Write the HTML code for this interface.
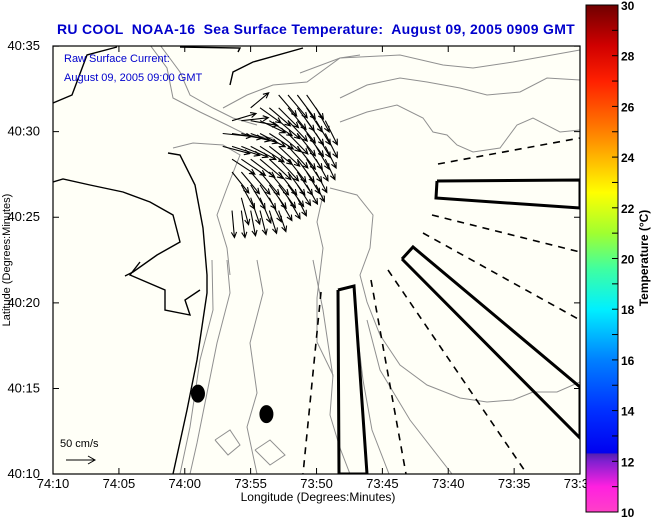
<!DOCTYPE html>
<html><head><meta charset="utf-8"><style>
html,body{margin:0;padding:0;background:#fff;}
svg{display:block;font-family:"Liberation Sans",sans-serif;}
</style></head><body>
<svg id="chart" width="651" height="518" viewBox="0 0 651 518">
<defs>
<linearGradient id="cb" x1="0" y1="1" x2="0" y2="0">
<stop offset="0" stop-color="#ff40c8"/>
<stop offset="0.05" stop-color="#ff20e0"/>
<stop offset="0.1" stop-color="#8020d0"/>
<stop offset="0.115" stop-color="#5020b0"/>
<stop offset="0.116" stop-color="#0000f0"/>
<stop offset="0.2" stop-color="#0030ff"/>
<stop offset="0.3" stop-color="#0080ff"/>
<stop offset="0.4" stop-color="#00f0ff"/>
<stop offset="0.48" stop-color="#40ffa0"/>
<stop offset="0.55" stop-color="#a0ff30"/>
<stop offset="0.63" stop-color="#ffff00"/>
<stop offset="0.75" stop-color="#ff8000"/>
<stop offset="0.85" stop-color="#ff2000"/>
<stop offset="0.92" stop-color="#d00000"/>
<stop offset="1" stop-color="#700000"/>
</linearGradient>
<clipPath id="pc"><rect x="53" y="46" width="527" height="428"/></clipPath>
</defs>
<text x="316" y="34" text-anchor="middle" font-size="14" font-weight="bold" fill="#0000cc" xml:space="preserve" letter-spacing="0.3">RU COOL  NOAA-16  Sea Surface Temperature:  August 09, 2005 0909 GMT</text>
<rect x="53" y="46" width="527" height="428" fill="#fffff7"/>
<g id="map" clip-path="url(#pc)" fill="none"></g>
<g id="vecs" clip-path="url(#pc)"></g>
<rect x="53" y="46" width="527" height="428" fill="none" stroke="#000" stroke-width="1.2"/>
<g id="axes"></g>
<text x="64" y="62" font-size="11" fill="#0000cc">Raw Surface Current:</text>
<text x="64" y="81" font-size="11" fill="#0000cc">August 09, 2005 09:00 GMT</text>
<text x="60" y="447" font-size="11" fill="#000">50 cm/s</text>
<g stroke="#000" fill="none"><line x1="66" y1="460" x2="95" y2="460"/><polyline points="88,456 95,460 88,464"/></g>
<text x="318" y="501" text-anchor="middle" font-size="12">Longitude (Degrees:Minutes)</text>
<text transform="translate(10,260) rotate(-90)" text-anchor="middle" font-size="11">Latitude (Degrees:Minutes)</text>
<rect x="586" y="5" width="32" height="507" fill="url(#cb)" stroke="#000" stroke-width="1"/>
<g id="cbt"></g>
<text transform="translate(648,258) rotate(-90)" text-anchor="middle" font-size="12" font-weight="bold">Temperature (°C)</text>
</svg>
<script>
const lonTicks=[-74.1667,-74.0833,-74.0,-73.9167,-73.8333,-73.75,-73.6667,-73.5833,-73.5];
const lonLabels=["74:10","74:05","74:00","73:55","73:50","73:45","73:40","73:35","73:30"];
const latTicks=[40.1667,40.25,40.3333,40.4167,40.5,40.5833];
const latLabels=["40:10","40:15","40:20","40:25","40:30","40:35"];
const cbTicks=[10,12,14,16,18,20,22,24,26,28,30];
const gridLon0=-73.952, dLon=0.0118, gridLat0=40.5357, dLat=0.0125;
const uRows=[
[null,null,null,null,null,null,30,32,30,28,null,null],
[null,null,null,30,35,35,33,30,28,26,22,null],
[null,40,45,45,42,38,35,32,30,28,24,20],
[48,50,48,45,42,40,36,33,30,28,24,20],
[45,46,44,42,40,38,35,33,30,26,22,18],
[null,38,40,40,38,36,33,30,28,25,20,16],
[null,28,30,32,32,32,30,28,25,22,18,null],
[null,null,22,24,26,28,28,26,22,18,14,null],
[null,null,12,15,18,20,22,20,15,null,null,null],
[null,4,6,8,10,12,12,null,null,null,null,null]];
const vRows=[
[null,null,null,null,null,null,-35,-38,-40,-40,null,null],
[null,null,null,25,-25,-30,-33,-36,-38,-40,-40,null],
[null,12,5,-8,-20,-25,-30,-34,-37,-40,-40,-40],
[-5,-8,-12,-16,-22,-26,-30,-34,-37,-38,-40,-40],
[-12,-15,-18,-22,-26,-30,-33,-36,-38,-38,-38,-36],
[null,-25,-27,-30,-32,-34,-36,-38,-38,-38,-36,-34],
[null,-35,-36,-37,-38,-38,-38,-38,-38,-36,-34,null],
[null,null,-40,-40,-40,-39,-38,-36,-34,-32,-28,null],
[null,null,-45,-44,-42,-40,-38,-35,-30,null,null,null],
[null,-45,-45,-42,-40,-38,-35,null,null,null,null,null]];
const stationLon=[-73.9833,-73.8967];
const stationLat=[40.2450,40.2250];

const X=lon=>53+(lon+74.1667)/0.6667*527;
const Y=lat=>474-(lat-40.1667)/0.4167*428;
const CY=t=>512-(t-10)/20*507;
const NS="http://www.w3.org/2000/svg";
function mk(tag,attrs,parent){const e=document.createElementNS(NS,tag);for(const k in attrs)e.setAttribute(k,attrs[k]);parent.appendChild(e);return e;}
const axes=document.getElementById('axes');
lonTicks.forEach((lo,i)=>{const x=X(lo);
 const t=mk('path',{d:`M${x},474v-6M${x},46v6`,stroke:'#000'},axes);
 
 
 const l=mk('text',{x:x,y:488,'text-anchor':'middle','font-size':13},axes);l.textContent=lonLabels[i];
 
 });
latTicks.forEach((la,i)=>{const y=Y(la);
 const t=mk('path',{d:`M53,${y}h6M580,${y}h-6`,stroke:'#000'},axes);
 
 
 const l=mk('text',{x:40,y:y+4,'text-anchor':'end','font-size':13},axes);l.textContent=latLabels[i];
 
 });
const cbt=document.getElementById('cbt');
cbTicks.forEach(t=>{const y=CY(t);
 const m=mk('path',{d:`M612,${y}h6`,stroke:'#000'},cbt);
 
 
 const l=mk('text',{x:621,y:y+5,'font-size':12,'font-weight':'bold'},cbt);l.textContent=t;
 
 });
for(let t=11;t<30;t+=2){const m=mk('path',{d:`M612,${CY(t)}h6`,stroke:'#000'},cbt);
 
 }

const map=document.getElementById('map');
function line(pts,st,name){const p=mk('polyline',{points:pts,...st},map);
 
 }
const G={stroke:'#909090','stroke-width':1};
const B={stroke:'#000','stroke-width':1.4};
const T={stroke:'#000','stroke-width':3,'stroke-linejoin':'miter'};
const D={stroke:'#000','stroke-width':1.6,'stroke-dasharray':'7,6'};
line("300,73 340,58 400,55 443,65 473,68 513,62 580,50",G,'isobath');
line("223,108 247,95 273,85 307,82 340,58 360,55",G,'isobath');
line("340,98 367,85 400,78 427,82 460,88 487,95 520,92 547,78 580,80",G,'isobath');
line("340,122 367,112 397,105 423,118 433,132 447,135 457,145 473,152 500,148 517,125 533,118 560,132 580,130",G,'isobath');
line("330,188 357,195 373,215 370,248 360,275 367,302 380,335 400,365 427,385 460,398 487,402 513,400 533,392 557,392 580,382",G,'isobath');
line("323,195 317,222 323,248 317,298 317,342 333,375 330,415 340,448 350,474",G,'isobath');
line("357,330 363,380 372,430 389,474",G,'isobath');
line("367,320 380,370 410,420 452,474",G,'isobath');
line("150,45 167,68 173,98 200,112 227,125 247,135 273,138",G,'isobath');
line("160,45 180,72 190,95 213,108 233,118 257,125",G,'isobath');
line("173,148 193,143 223,145 240,155 227,188 217,215 227,248 230,275",G,'isobath');
line("212,260 213,310 200,360 190,427 180,474",G,'isobath');
line("227,260 230,293 217,343 207,393 197,443 190,474",G,'isobath');
line("257,260 263,293 250,343 257,393 247,427 257,474",G,'isobath');
line("313,260 323,310 333,377",G,'isobath');
line("215,440 230,430 240,445 228,455 215,440",G,'isobath');
line("255,450 270,440 285,455 270,465 255,450",G,'isobath');
line("168,153 180,155 195,185 203,228 207,275 207,293 197,360 187,410 173,474",B,'coastline');
line("53,103 72,95 87,55 117,47",B,'coastline');
line("230,85 233,72 253,62 303,48",B,'coastline');
line("180,47 240,48 238,52",B,'coastline');
line("53,182 63,179 90,185 123,192 150,202 173,215 180,242 157,255 133,272 125,276",B,'coastline');
line("140,262 130,275 165,290 165,310 190,315 185,300 200,290",B,'coastline');
line("437,181 580,180 580,208 436,198 437,181",T,'antenna-box');
line("402,259 413,247 580,387 580,438 402,259",T,'antenna-box');
line("338,290 354,286 367,474 339,474 338,290",T,'antenna-box');
line("438,164 580,138",D,'dashed-beam');
line("432,215 580,252",D,'dashed-beam');
line("423,233 580,320",D,'dashed-beam');
line("388,270 527,474",D,'dashed-beam');
line("371,280 406,474",D,'dashed-beam');
line("321,292 303,474",D,'dashed-beam');
stationLon.forEach((lo,i)=>{const e=mk('ellipse',{cx:X(lo),cy:Y(stationLat[i]),rx:7,ry:9,fill:'#000'},map);
 
 });

const vg=document.getElementById('vecs');
const S=0.6;
uRows.forEach((row,r)=>row.forEach((u,c)=>{const v=vRows[r][c];if(u===null||v===null)return;
 const x0=X(gridLon0+c*dLon), y0=Y(gridLat0-r*dLat);
 const x1=x0+u*S, y1=y0-v*S;
 const a=Math.atan2(y1-y0,x1-x0), h=6;
 const d=`M${x0},${y0}L${x1},${y1}M${x1-h*Math.cos(a-0.45)},${y1-h*Math.sin(a-0.45)}L${x1},${y1}L${x1-h*Math.cos(a+0.45)},${y1-h*Math.sin(a+0.45)}`;
 const p=mk('path',{d:d,stroke:'#000','stroke-width':1.1,fill:'none'},vg);
 
 
}));
</script>
</body></html>
